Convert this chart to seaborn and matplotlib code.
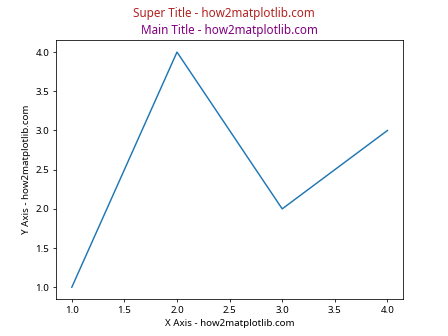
import matplotlib
matplotlib.use("Agg")
import matplotlib.pyplot as plt
import seaborn as sns
import pandas as pd

x_values = [1, 2, 3, 4]
y_values = [1, 4, 2, 3]

plt.rcParams['font.family'] = ['Noto Sans', 'DejaVu Sans']
plt.rcParams['font.size'] = 10

df = pd.DataFrame({"x": x_values, "y": y_values})

fig, ax = plt.subplots(figsize=(6.4, 4.8), dpi=70)
sns.lineplot(data=df, x="x", y="y", ax=ax, color="#1f77b4")
fig.suptitle("Super Title - how2matplotlib.com", color="firebrick")
ax.set_title("Main Title - how2matplotlib.com", color="purple")
ax.set_xlabel("X Axis - how2matplotlib.com")
ax.set_ylabel("Y Axis - how2matplotlib.com")
fig.savefig("out.png", dpi=70)
